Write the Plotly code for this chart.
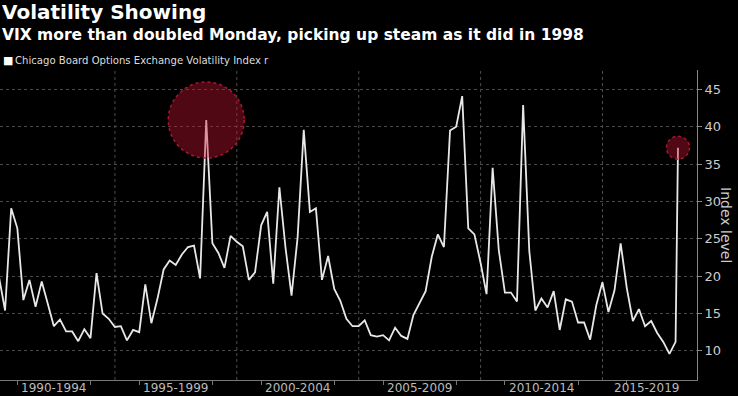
import pandas as pd
import plotly.graph_objects as go

# ---------------- data ----------------
# VIX at each quarter end, 1990 Q1 .. 2017 Q4
years = list(range(1990, 2018))
vix_quarter_end = [
    19.9, 15.4, 29.1, 26.4,   # 1990
    16.8, 19.5, 15.9, 19.3,   # 1991
    16.3, 13.3, 14.2, 12.6,   # 1992
    12.6, 11.3, 12.9, 11.7,   # 1993
    20.4, 15.0, 14.3, 13.2,   # 1994
    13.3, 11.4, 12.8, 12.5,   # 1995
    18.9, 13.7, 17.0, 20.9,   # 1996
    22.1, 21.5, 22.9, 23.9,   # 1997
    24.1, 19.7, 40.9, 24.4,   # 1998
    23.1, 21.1, 25.4, 24.6,   # 1999
    24.0, 19.5, 20.5, 26.8,   # 2000
    28.6, 19.0, 31.9, 23.8,   # 2001
    17.4, 25.2, 39.6, 28.6,   # 2002
    29.1, 19.5, 22.7, 18.3,   # 2003
    16.7, 14.3, 13.3, 13.3,   # 2004
    14.1, 12.1, 11.9, 12.1,   # 2005
    11.4, 13.1, 12.0, 11.6,   # 2006
    14.8, 16.3, 18.0, 22.6,   # 2007
    25.6, 23.9, 39.5, 40.0,   # 2008
    44.1, 26.4, 25.6, 21.8,   # 2009
    17.6, 34.5, 23.5, 17.8,   # 2010
    17.8, 16.6, 42.9, 23.4,   # 2011
    15.4, 17.0, 15.8, 18.0,   # 2012
    12.8, 16.9, 16.6, 13.8,   # 2013
    13.8, 11.5, 16.1, 19.2,   # 2014
    15.2, 18.1, 24.4, 18.4,   # 2015
    14.0, 15.6, 13.3, 14.0,   # 2016
    12.4, 11.2, 9.6, 11.2,    # 2017
]
latest_date = "2018-02-05"
latest_value = 37.2

period_labels = ["1990-1994", "1995-1999", "2000-2004", "2005-2009", "2010-2014", "2015-2019"]
period_label_dates = ["1992-07-01", "1997-07-01", "2002-07-01", "2007-07-01", "2012-07-01", "2016-10-20"]
period_bounds = ["1995-01-01", "2000-01-01", "2005-01-01", "2010-01-01", "2015-01-01"]
bracket_ticks = ["1991-01-01", "1994-01-01", "1996-01-01", "1999-01-01", "2001-01-01", "2004-01-01",
                 "2006-01-01", "2009-01-01", "2011-01-01", "2014-01-01", "2016-01-01", "2019-01-01"]
y_ticks = [10, 15, 20, 25, 30, 35, 40, 45]
highlight_dates = ["1998-09-30", latest_date]

title = "Volatility Showing"
subtitle = "VIX more than doubled Monday, picking up steam as it did in 1998"
series_name = "Chicago Board Options Exchange Volatility Index r"

# ---------------- build ----------------
q_dates = [d.strftime("%Y-%m-%d") for d in pd.date_range(f"{years[0]}-01-01", f"{years[-1]}-12-31", freq="QE")]
dates = q_dates + [latest_date]
values = vix_quarter_end + [latest_value]
lookup = dict(zip(dates, values))

fig = go.Figure()
fig.add_trace(go.Scatter(x=dates, y=values, mode="lines", name=series_name,
                         line=dict(color="#e8e8e8", width=1.8), showlegend=False))

shapes = []
for b in period_bounds:
    shapes.append(dict(type="line", xref="x", yref="paper", x0=b, x1=b, y0=0, y1=1,
                       line=dict(color="#4d4d4d", width=1, dash="dot"), layer="below"))
for d, r in zip(highlight_dates, [38, 11.5]):
    shapes.append(dict(type="circle", xref="x", yref="y", xsizemode="pixel", ysizemode="pixel",
                       xanchor=d, yanchor=lookup[d], x0=-r, x1=r, y0=-r, y1=r,
                       fillcolor="rgba(200,20,50,0.40)",
                       line=dict(color="rgba(175,25,50,0.95)", width=1.5, dash="dot"), layer="above"))

def py(pixel_y):
    # figure pixel row -> paper coordinate (plot area spans rows 70..380)
    return (380 - pixel_y) / 310

annotations = [
    dict(text="<b>" + title + "</b>", xref="paper", yref="paper", x=0, y=py(-2),
         xanchor="left", yanchor="top", showarrow=False, font=dict(size=20, color="#ffffff")),
    dict(text="<b>" + subtitle + "</b>", xref="paper", yref="paper", x=0, y=py(24),
         xanchor="left", yanchor="top", showarrow=False, font=dict(size=15.5, color="#ffffff")),
    dict(text="■", xref="paper", yref="paper", x=1 / 697, y=py(60),
         xanchor="left", yanchor="middle", showarrow=False, font=dict(size=11, color="#ffffff")),
    dict(text=series_name, xref="paper", yref="paper", x=13 / 697, y=py(60),
         xanchor="left", yanchor="middle", showarrow=False, font=dict(size=10.1, color="#dddddd")),
    dict(text="Index level", xref="paper", yref="paper", x=726 / 697, y=0.5,
         xanchor="center", yanchor="middle", textangle=90, showarrow=False,
         font=dict(size=14, color="#cccccc")),
]
for lbl, d in zip(period_labels, period_label_dates):
    annotations.append(dict(text=lbl, xref="x", yref="paper", x=d, y=0, xanchor="center",
                            yanchor="top", showarrow=False, borderpad=0,
                            font=dict(size=12, color="#bbbbbb")))

fig.update_layout(
    width=738, height=396,
    paper_bgcolor="#000000", plot_bgcolor="#000000",
    margin=dict(l=0, r=41, t=70, b=16, autoexpand=False),
    font=dict(family="DejaVu Sans", color="#cccccc"),
    shapes=shapes, annotations=annotations,
    xaxis=dict(type="date", range=["1990-04-15", "2018-11-17"],
               tickvals=period_label_dates, ticktext=["" for _ in period_labels], ticks="",
               showgrid=False, zeroline=False, showline=True, linecolor="#777777", linewidth=1,
               minor=dict(tickvals=bracket_ticks, ticks="outside", ticklen=4, tickcolor="#777777",
                          showgrid=False)),
    yaxis=dict(side="right", range=[6.1, 47.6], tickvals=y_ticks,
               showgrid=True, gridcolor="#4a4a4a", griddash="dot", gridwidth=1,
               zeroline=False, showline=True, linecolor="#888888", linewidth=1,
               ticks="outside", ticklen=4, tickcolor="#888888",
               tickfont=dict(size=13, color="#cccccc")),
)

fig.write_html("out.html", config={"displayModeBar": False},
               post_script="document.body.style.margin='0';")
